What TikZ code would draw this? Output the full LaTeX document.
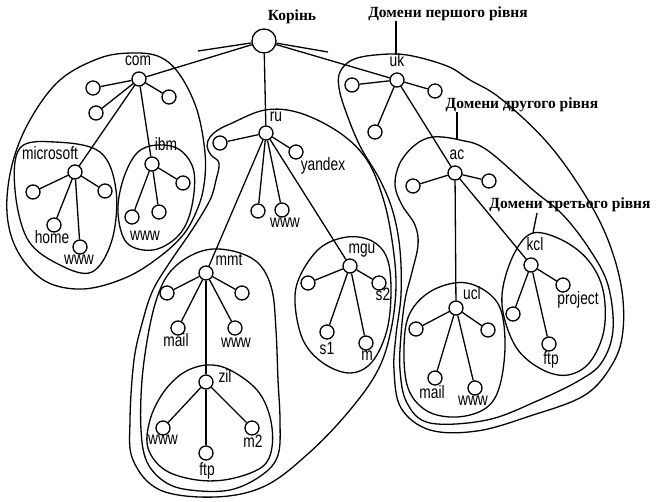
\documentclass[tikz,border=0pt]{standalone}
\usepackage{fontspec}
\setmainfont{Liberation Serif}
\setsansfont{Liberation Sans}
\usepackage{graphicx}
\newcommand\mylab[1]{\scalebox{0.86}[1.12]{#1}}
\tikzset{
  dn/.style={circle,draw,fill=white,inner sep=0pt,minimum size=14pt,line width=1.3pt},
  rootn/.style={dn,minimum size=24pt},
  lab/.style={font=\fontsize{16}{16}\selectfont\sffamily,inner sep=0pt,anchor=mid},
  capt/.style={font=\fontsize{15.5}{15.5}\selectfont\rmfamily\bfseries,inner sep=0pt},
  edge/.style={line width=1.3pt},
  blob/.style={line width=1.3pt},
}
\begin{document}
\begin{tikzpicture}[x=1pt,y=-1pt]
\useasboundingbox (0,0) rectangle (664,501);
% ---------- enclosures ----------
% com
\draw[blob] plot[smooth cycle,tension=0.6] coordinates {(133,53) (160,57) (180,75) (197,110) (205,153) (204,185) (197,210) (183,235) (158,258) (125,278) (83,289) (45,281) (18,252) (7,213) (12,165) (30,120) (60,80) (100,58)};
% microsoft
\draw[blob] plot[smooth cycle,tension=0.6] coordinates {(20,148) (55,142) (100,152) (116,190) (112,240) (92,272) (60,265) (28,240) (15,190)};
% ibm
\draw[blob] plot[smooth cycle,tension=0.6] coordinates {(157,145) (180,150) (194,172) (191,210) (178,236) (153,250) (127,243) (118,213) (123,180) (137,153)};
% ru
\draw[blob] plot[smooth cycle,tension=0.6] coordinates {(230,124) (265,110) (300,113) (340,133) (367,160) (383,198) (392,240) (396,285) (391,330) (378,370) (350,410) (310,452) (265,486) (215,497) (160,490) (133,460) (130,420) (134,360) (143,320) (153,290) (170,262) (192,230) (210,200) (216,180) (219,163) (211,155) (207,146) (210,137) (218,130)};
% mmt
\draw[blob] plot[smooth cycle,tension=0.6] coordinates {(213,249) (240,253) (260,265) (272,290) (276,330) (278,380) (280,420) (278,455) (262,475) (230,490) (190,490) (165,482) (147,462) (141,430) (142,380) (149,330) (158,295) (170,272) (190,256)};
% zil
\draw[blob] plot[smooth cycle,tension=0.6] coordinates {(207,365) (230,370) (257,390) (270,417) (272,447) (262,467) (230,479) (197,480) (165,470) (148,448) (150,420) (163,393) (183,373)};
% mgu
\draw[blob] plot[smooth cycle,tension=0.6] coordinates {(347,237) (372,241) (387,258) (391,290) (387,330) (372,362) (350,373) (323,363) (303,340) (295,303) (300,276) (320,248)};
% uk
\draw[blob] plot[smooth cycle,tension=0.6] coordinates {(340,72) (352,60) (375,55) (407,55) (447,66) (470,80) (500,98) (545,140) (580,187) (606,235) (621,285) (623,330) (613,363) (585,395) (530,416) (477,431) (430,430) (401,408) (394,370) (396,335) (401,295) (400,250) (393,212) (380,180) (360,146) (346,112) (339,88)};
% ac
\draw[blob] plot[smooth cycle,tension=0.6] coordinates {(433,137) (460,140) (487,150) (533,190) (563,215) (590,250) (608,285) (613,330) (602,362) (580,380) (537,401) (487,420) (430,423) (407,403) (400,370) (401,335) (405,300) (412,272) (418,245) (415,225) (402,205) (395,185) (400,163) (415,145)};
% ucl
\draw[blob] plot[smooth cycle,tension=0.6] coordinates {(467,283) (497,302) (505,340) (500,385) (486,408) (457,417) (427,411) (408,388) (404,347) (410,313) (433,290)};
% kcl
\draw[blob] plot[smooth cycle,tension=0.6] coordinates {(533,233) (562,240) (588,260) (603,290) (604,330) (590,362) (568,375) (543,370) (518,350) (504,317) (503,287) (515,252)};
% ---------- nodes ----------
\node[rootn] (root) at (264,41) {};
\coordinate (stubL) at (198,51);
\coordinate (stubR) at (328,52);
\node[dn] (com) at (139,79) {};
\node[dn] (c1) at (93,88) {};
\node[dn] (c2) at (96,113) {};
\node[dn] (c3) at (169,97) {};
\node[dn] (ms) at (75,172) {};
\node[dn] (ms1) at (33,192) {};
\node[dn] (ms2) at (105,191) {};
\node[dn] (mshome) at (54,225) {};
\node[dn] (mswww) at (80,247) {};
\node[dn] (ibm) at (152,164) {};
\node[dn] (ib1) at (183,183) {};
\node[dn] (ib2) at (132,217) {};
\node[dn] (ib3) at (159,212) {};
\node[dn] (ru) at (266,133) {};
\node[dn] (r1) at (220,143) {};
\node[dn] (ryx) at (296,152) {};
\node[dn] (rw1) at (258,211) {};
\node[dn] (rw2) at (282,210) {};
\node[dn] (mmt) at (206,273) {};
\node[dn] (mt1) at (167,293) {};
\node[dn] (mt2) at (242,293) {};
\node[dn] (mtmail) at (178,328) {};
\node[dn] (mtwww) at (235,328) {};
\node[dn] (zil) at (206,382) {};
\node[dn] (zwww) at (163,428) {};
\node[dn] (zftp) at (206,453) {};
\node[dn] (zm2) at (252,428) {};
\node[dn] (mgu) at (350,266) {};
\node[dn] (g1) at (308,283) {};
\node[dn] (gs2) at (379,283) {};
\node[dn] (gs1) at (327,332) {};
\node[dn] (gm) at (366,343) {};
\node[dn] (uk) at (397,80) {};
\node[dn] (u1) at (352,85) {};
\node[dn] (u2) at (435,91) {};
\node[dn] (u3) at (375,132) {};
\node[dn] (ac) at (455,173) {};
\node[dn] (a1) at (413,186) {};
\node[dn] (a2) at (489,181) {};
\node[dn] (ucl) at (456,308) {};
\node[dn] (l1) at (416,329) {};
\node[dn] (l2) at (488,330) {};
\node[dn] (lmail) at (435,378) {};
\node[dn] (lwww) at (475,388) {};
\node[dn] (kcl) at (531,265) {};
\node[dn] (kproj) at (563,285) {};
\node[dn] (k1) at (513,314) {};
\node[dn] (kftp) at (549,344) {};
% ---------- edges ----------
\draw[edge] (root) -- (stubL);
\draw[edge] (root) -- (stubR);
\draw[edge] (root) -- (com);
\draw[edge] (root) -- (ru);
\draw[edge] (root) -- (uk);
\foreach \t in {c1,c2,c3,ms,ibm} \draw[edge] (com) -- (\t);
\foreach \t in {ms1,ms2,mshome,mswww} \draw[edge] (ms) -- (\t);
\foreach \t in {ib1,ib2,ib3} \draw[edge] (ibm) -- (\t);
\foreach \t in {r1,ryx,rw1,rw2,mmt,mgu} \draw[edge] (ru) -- (\t);
\foreach \t in {mt1,mt2,mtmail,mtwww,zil} \draw[edge] (mmt) -- (\t);
\foreach \t in {zwww,zftp,zm2} \draw[edge] (zil) -- (\t);
\foreach \t in {g1,gs2,gs1,gm} \draw[edge] (mgu) -- (\t);
\foreach \t in {u1,u2,u3,ac} \draw[edge] (uk) -- (\t);
\foreach \t in {a1,a2,ucl,kcl} \draw[edge] (ac) -- (\t);
\foreach \t in {l1,l2,lmail,lwww} \draw[edge] (ucl) -- (\t);
\foreach \t in {kproj,k1,kftp} \draw[edge] (kcl) -- (\t);
% ---------- labels ----------
\node[lab] (tcom) at (138,63) {\mylab{com}};
\node[lab] (tms) at (50,157) {\mylab{microsoft}};
\node[lab] (tibm) at (166,148) {\mylab{ibm}};
\node[lab] (thome) at (52,241) {\mylab{home}};
\node[lab] (tmswww) at (79,262) {\mylab{www}};
\node[lab] (tibwww) at (145,238) {\mylab{www}};
\node[lab] (tru) at (276,119) {\mylab{ru}};
\node[lab] (tyx) at (323,168) {\mylab{yandex}};
\node[lab] (truwww) at (285,225) {\mylab{www}};
\node[lab] (tmmt) at (229,263) {\mylab{mmt}};
\node[lab] (tmtmail) at (176,344) {\mylab{mail}};
\node[lab] (tmtwww) at (236,345) {\mylab{www}};
\node[lab] (tzil) at (225,380) {\mylab{zil}};
\node[lab] (tzwww) at (163,442) {\mylab{www}};
\node[lab] (tzftp) at (207,473) {\mylab{ftp}};
\node[lab] (tzm2) at (253,445) {\mylab{m2}};
\node[lab] (tmgu) at (362,251) {\mylab{mgu}};
\node[lab] (ts2) at (383,298) {\mylab{s2}};
\node[lab] (ts1) at (327,352) {\mylab{s1}};
\node[lab] (tm) at (367,358) {\mylab{m}};
\node[lab] (tuk) at (397,64) {\mylab{uk}};
\node[lab] (tac) at (457,157) {\mylab{ac}};
\node[lab] (tucl) at (472,297) {\mylab{ucl}};
\node[lab] (tkcl) at (535,248) {\mylab{kcl}};
\node[lab] (tproj) at (578,302) {\mylab{project}};
\node[lab] (tkftp) at (551,362) {\mylab{ftp}};
\node[lab] (tlmail) at (432,396) {\mylab{mail}};
\node[lab] (tlwww) at (473,403) {\mylab{www}};
% ---------- captions ----------
\node[capt] (kor) at (292,17) {Корінь};
\node[capt] (d1) at (448,14) {Домени першого рівня};
\node[capt] (d2) at (522,105) {Домени другого рівня};
\node[capt] (d3) at (570,205) {Домени третього рівня};
\coordinate (d1e) at (396,55);
\coordinate (d2e) at (457,140);
\coordinate (d3s) at (537,213);
\coordinate (d3e) at (533,233);
\draw[edge] (d1.south -| d1e) -- (d1e);
\draw[edge] (d2.south -| d2e) -- (d2e);
\draw[edge] (d3s) -- (d3e);
\end{tikzpicture}
\end{document}
